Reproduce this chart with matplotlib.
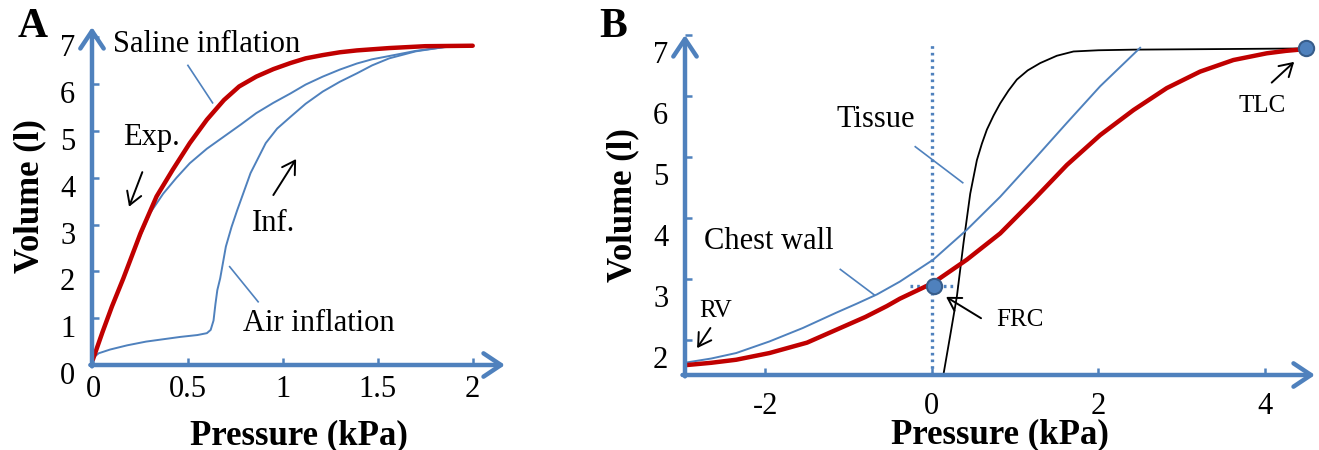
import numpy as np
import matplotlib
matplotlib.use('Agg')
import matplotlib.pyplot as plt
import matplotlib.transforms as mtransforms

plt.rcParams['font.family'] = ['Liberation Serif', 'DejaVu Serif']

BLUE = '#4F81BD'
RED = '#C00000'

# Panel A: pressure-volume curves, saline vs air inflation
sal_exp_p = [0, 0.05, 0.1, 0.16, 0.25, 0.335, 0.42, 0.51, 0.6, 0.69, 0.77, 0.86, 0.95, 1.04,
             1.12, 1.21, 1.3, 1.39, 1.56, 1.75, 2.0]
sal_exp_v = [0.12, 0.7, 1.25, 1.85, 2.81, 3.6, 4.17, 4.74, 5.24, 5.66, 5.95, 6.16, 6.32, 6.45,
             6.55, 6.62, 6.68, 6.72, 6.77, 6.81, 6.82]

sal_inf_p = [0, 0.1, 0.2, 0.3, 0.37, 0.44, 0.51, 0.6, 0.69, 0.78, 0.86, 0.95, 1.04, 1.12, 1.21,
             1.3, 1.39, 1.47, 1.56, 1.7, 1.85, 2.0]
sal_inf_v = [0.12, 1.22, 2.28, 3.24, 3.66, 4.0, 4.31, 4.62, 4.88, 5.14, 5.38, 5.6, 5.8, 5.99, 6.16,
             6.31, 6.44, 6.53, 6.6, 6.71, 6.79, 6.82]

air_p = [0, 0.03, 0.09, 0.18, 0.28, 0.37, 0.46, 0.55, 0.6, 0.62, 0.635, 0.645, 0.655, 0.67, 0.70,
         0.73, 0.76, 0.83, 0.91, 0.97, 1.04, 1.12, 1.21, 1.3, 1.39, 1.47, 1.56, 1.7, 1.85, 2.0]
air_v = [0.15, 0.25, 0.33, 0.42, 0.5, 0.55, 0.6, 0.64, 0.68, 0.75, 0.95, 1.3, 1.6, 1.85, 2.53,
         2.95, 3.31, 4.1, 4.74, 5.05, 5.3, 5.58, 5.84, 6.05, 6.23, 6.4, 6.55, 6.7, 6.79, 6.82]

# Panel B: respiratory system, chest wall and tissue
resp_p = [-2.97, -2.65, -2.35, -1.95, -1.5, -1.15, -0.8, -0.54, -0.385, 0.016, 0.42, 0.82, 1.22,
          1.62, 2.02, 2.42, 2.82, 3.22, 3.62, 4.02, 4.25, 4.49]
resp_v = [1.59, 1.63, 1.68, 1.79, 1.96, 2.17, 2.38, 2.56, 2.68, 2.94, 3.32, 3.75, 4.30,
          4.87, 5.36, 5.77, 6.13, 6.40, 6.59, 6.70, 6.74, 6.77]

cw_p = [-2.97, -2.65, -2.35, -1.95, -1.55, -1.15, -0.9, -0.66, -0.385, 0.016, 0.42, 0.82, 1.22,
        1.62, 2.02, 2.5]
cw_v = [1.63, 1.7, 1.79, 1.98, 2.2, 2.45, 2.6, 2.75, 2.96, 3.32, 3.81, 4.35, 4.95,
        5.56, 6.16, 6.79]

tis_p = [0.14, 0.22, 0.3, 0.38, 0.46, 0.54, 0.6, 0.66, 0.74, 0.82, 0.92, 1.02, 1.15, 1.3, 1.5,
         1.7, 2.0, 2.42, 3.5, 4.49]
tis_v = [1.45, 2.08, 2.72, 3.6, 4.4, 4.95, 5.22, 5.45, 5.68, 5.88, 6.09, 6.27, 6.42, 6.54, 6.66,
         6.73, 6.75, 6.76, 6.77, 6.78]

frc = (0.02, 2.88)
tlc = (4.49, 6.79)

fig = plt.figure(figsize=(13.19, 4.5), dpi=100)
axA = fig.add_axes([92 / 1319, 85 / 450, 413 / 1319, 338 / 450])
axB = fig.add_axes([685 / 1319, 75 / 450, 630 / 1319, 340 / 450])


def style_axes(ax, xticks, xlabels, yticks, ylabels, dy_px, tick_fs, xpad):
    for s in ax.spines.values():
        s.set_visible(False)
    arrow = dict(arrowstyle='->,head_length=0.45,head_width=0.3', color=BLUE, lw=3.2,
                 mutation_scale=28, shrinkA=0, shrinkB=0)
    ax.annotate('', xy=(1, 0), xytext=(-0.004, 0), xycoords='axes fraction', arrowprops=arrow,
                annotation_clip=False)
    ax.annotate('', xy=(0, 1), xytext=(0, -0.004), xycoords='axes fraction', arrowprops=arrow,
                annotation_clip=False)
    ax.set_xticks(xticks)
    ax.set_xticklabels(xlabels, fontsize=tick_fs)
    ax.set_yticks(yticks)
    ax.set_yticklabels(ylabels, fontsize=tick_fs)
    ax.tick_params(direction='in', color=BLUE, length=5, width=1.8)
    ax.tick_params(axis='x', pad=xpad)
    ax.tick_params(axis='y', pad=12)
    off = mtransforms.ScaledTranslation(0, -dy_px / 100, fig.dpi_scale_trans)
    for lab in ax.get_yticklabels():
        lab.set_transform(lab.get_transform() + off)


blk = dict(arrowstyle='->,head_length=0.5,head_width=0.3', color='black', lw=1.4,
           mutation_scale=18, shrinkA=0, shrinkB=0)

# ---- Panel A ----
axA.set_xlim(-0.005, 2.17)
axA.set_ylim(0, 7.22)
axA.plot(sal_inf_p, sal_inf_v, color=BLUE, lw=1.4)
axA.plot(air_p, air_v, color=BLUE, lw=1.4)
axA.plot(sal_exp_p, sal_exp_v, color=RED, lw=3.2, solid_capstyle='round')
style_axes(axA, [0, 0.5, 1, 1.5, 2], ['0', '0.5', '1', '1.5', '2'],
           [0, 1, 2, 3, 4, 5, 6, 7], [str(i) for i in range(8)], 8, 22, 7)
axA.set_xlabel('Pressure (kPa)', fontsize=25, fontweight='bold', labelpad=11)
axA.set_ylabel('Volume (l)', fontsize=25, fontweight='bold', labelpad=10)

axA.plot([0.5, 0.63], [6.4, 5.6], color=BLUE, lw=1.2)
axA.plot([0.72, 0.87], [2.1, 1.35], color=BLUE, lw=1.2)
axA.text(0.6, 6.84, 'Saline inflation', fontsize=22, ha='center', va='center')
axA.text(1.19, 0.88, 'Air inflation', fontsize=22, ha='center', va='center')
axA.text(0.31, 4.85, 'Exp.', fontsize=22, ha='center', va='center')
axA.text(0.95, 3.03, 'Inf.', fontsize=22, ha='center', va='center')
axA.annotate('', xy=(0.19, 3.38), xytext=(0.26, 4.12), arrowprops=blk)
axA.annotate('', xy=(1.07, 4.4), xytext=(0.95, 3.63), arrowprops=blk)
fig.text(33 / 1319, 1 - 27 / 450, 'A', fontsize=30, fontweight='bold', ha='center', va='center')

# ---- Panel B ----
axB.set_xlim(-2.965, 4.6)
axB.set_ylim(1.43, 7.0)
axB.plot([0, 0], [1.43, 6.84], color=BLUE, lw=2.4, ls=(0, (0.8, 1.2)))
axB.plot([-0.26, 0.3], [frc[1], frc[1]], color=BLUE, lw=2.4, ls=(0, (0.8, 1.2)))
axB.plot(tis_p, tis_v, color='black', lw=1.3)
axB.plot(cw_p, cw_v, color=BLUE, lw=1.4)
axB.plot(resp_p, resp_v, color=RED, lw=3.2)
axB.plot(*frc, 'o', ms=11, mfc=BLUE, mec='#385D8A', mew=1.5, zorder=5)
axB.plot(*tlc, 'o', ms=11, mfc=BLUE, mec='#385D8A', mew=1.5, zorder=5, clip_on=False)
style_axes(axB, [-2, 0, 2, 4], ['-2', '0', '2', '4'],
           [2, 3, 4, 5, 6, 7], [str(i) for i in range(2, 8)], 17, 22, 12)
axB.set_xlabel('Pressure (kPa)', fontsize=25, fontweight='bold', labelpad=-2)
axB.set_ylabel('Volume (l)', fontsize=25, fontweight='bold', labelpad=10)

axB.plot([-0.2, 0.37], [5.17, 4.58], color=BLUE, lw=1.2)
axB.plot([-1.1, -0.69], [3.16, 2.74], color=BLUE, lw=1.2)
axB.text(-0.68, 5.61, 'Tissue', fontsize=22, ha='center', va='center')
axB.text(-1.96, 3.62, 'Chest wall', fontsize=22, ha='center', va='center')
axB.text(3.96, 5.84, 'TLC', fontsize=18, ha='center', va='center')
axB.text(1.06, 2.33, 'FRC', fontsize=18, ha='center', va='center')
axB.text(-2.6, 2.48, 'RV', fontsize=18, ha='center', va='center')
axB.annotate('', xy=(4.35, 6.56), xytext=(4.08, 6.22), arrowprops=blk)
axB.annotate('', xy=(0.17, 2.71), xytext=(0.59, 2.36), arrowprops=blk)
axB.annotate('', xy=(-2.82, 1.87), xytext=(-2.66, 2.2), arrowprops=blk)
fig.text(613 / 1319, 1 - 27 / 450, 'B', fontsize=30, fontweight='bold', ha='center', va='center')

fig.savefig('out.png', dpi=100)
